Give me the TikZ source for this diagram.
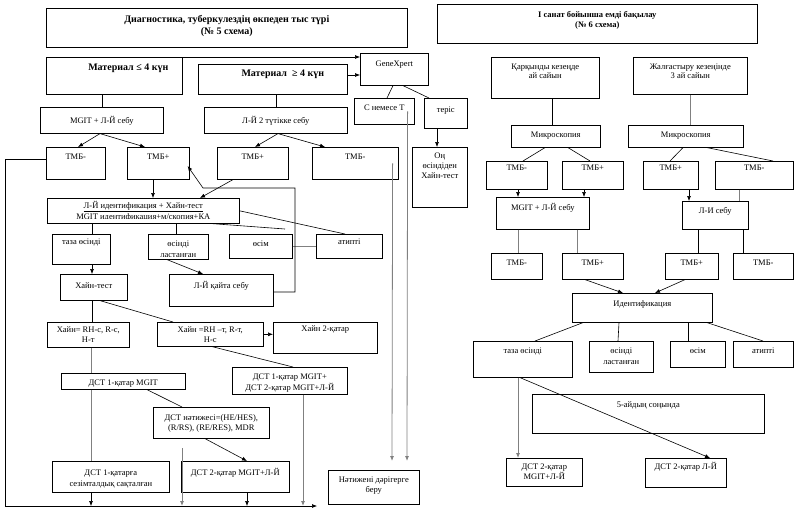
\documentclass[tikz,border=0pt]{standalone}
\usepackage{fontspec}
\setmainfont{Liberation Serif}
\usetikzlibrary{arrows.meta}
\tikzset{
box/.style = {rectangle, draw = black, fill = white, anchor = north west, align = center, inner xsep = 1pt, inner ysep = 0pt, line width = 0.6pt},
big/.style = {font = \fontsize{10pt}{12pt}\selectfont\bfseries},
con/.style = {draw = black, line width = 0.6pt},
grey con/.style = {draw = black!50, line width = 0.8pt},
arr/.style = {-{Latex[length = 5pt, width = 4pt]}},
cut line/.style n args = {3}{path picture = {
        \clip (path picture bounding box.north west) rectangle ([yshift = #3]path picture bounding box.south east);
        \node[anchor = base, inner sep = 0pt] at ([yshift = #2]path picture bounding box.south) {#1};
        }},
}

\begin{document}
\begin{tikzpicture}[x = 1pt, y = -1pt, every node/.style = {font = \fontsize{8.5pt}{10pt}\selectfont}]
    \useasboundingbox (0, 0) rectangle (798, 512);
    % scheme 5
    \node[box, big, minimum width = 361pt, text height = 26pt, text depth = 13pt] (title5) at (46, 8) {Диагностика, туберкулездің өкпеден тыс түрі\\(№ 5 схема)};
    \node[box, big, minimum width = 136pt, text height = 13pt, text depth = 24pt] (mat1) at (46, 57) {\hspace*{28pt}Материал ≤ 4 күн};
    \node[box, big, minimum width = 149pt, text height = 12pt, text depth = 18pt] (mat2) at (198, 64) {\hspace*{20pt}Материал \ ≥ 4 күн};
    \node[box, minimum width = 68pt, text height = 13pt, text depth = 19pt] (gx) at (360, 53) {GeneXpert};
    \node[box, minimum width = 123pt, text height = 16pt, text depth = 10pt] (mgit1) at (40, 107) {MGIT + Л-Й себу};
    \node[box, minimum width = 143pt, text height = 16pt, text depth = 10pt] (lj2) at (204, 107) {Л-Й 2 түтікке себу};
    \node[box, minimum width = 60pt, text height = 12pt, text depth = 14pt] (ct) at (354, 98) {С немесе Т};
    \node[box, minimum width = 43pt, text height = 14pt, text depth = 16pt] (neg) at (424, 98) {теріс};
    \node[box, minimum width = 55pt, text height = 31pt, text depth = 29pt] (ong) at (412, 147) {Оң\\өсіндіден\\Хайн-тест};
    \node[box, minimum width = 59pt, text height = 12pt, text depth = 20pt] (tmb1) at (46, 147) {ТМБ-};
    \node[box, minimum width = 62pt, text height = 12pt, text depth = 20pt] (tmb2) at (127, 147) {ТМБ+};
    \node[box, minimum width = 71pt, text height = 12pt, text depth = 20pt] (tmb3) at (217, 147) {ТМБ+};
    \node[box, minimum width = 86pt, text height = 12pt, text depth = 20pt] (tmb4) at (312, 147) {ТМБ-};
    \node[box, minimum width = 192pt, text height = 10pt, text depth = 15pt, cut line = {MGIT идентификация+м/скопия+КА}{3.5pt}{4.5pt}] (lid) at (47, 198) {\underline{Л-Й идентификация + Хайн-тест}};
    \node[box, minimum width = 58pt, text height = 10pt, text depth = 20pt] (taza) at (52, 234) {таза өсінді};
    \node[box, minimum width = 60pt, text height = 12pt, text depth = 13pt, cut line = {ластанған}{2pt}{3pt}] (osl) at (148, 234) {өсінді};
    \node[box, minimum width = 63pt, text height = 12pt, text depth = 12pt] (osim) at (229, 234) {өсім};
    \node[box, minimum width = 66pt, text height = 10pt, text depth = 14pt] (atip) at (316, 234) {атипті};
    \node[box, minimum width = 67pt, text height = 14pt, text depth = 12pt] (hain) at (60, 274) {Хайн-тест};
    \node[box, minimum width = 104pt, text height = 14pt, text depth = 18pt] (ljk) at (169, 274) {Л-Й қайта себу};
    \node[box, minimum width = 82pt, text height = 20pt, text depth = 5pt] (hainA) at (47, 322) {Хайн= RH-с, R-с,\\Н-т};
    \node[box, minimum width = 106pt, text height = 20pt, text depth = 4pt] (hainB) at (157, 322) {Хайн =RH –т, R-т,\\Н-с};
    \node[box, minimum width = 104pt, text height = 9pt, text depth = 22pt] (hain2) at (273, 322) {Хайн 2-қатар};
    \node[box, minimum width = 124pt, text height = 12pt, text depth = 4pt] (dst1) at (61, 373) {ДСТ 1-қатар MGIT};
    \node[box, minimum width = 115pt, text height = 23pt, text depth = 4pt] (dstp) at (232, 367) {ДСТ 1-қатар MGIT+\\[1pt]ДСТ 2-қатар MGIT+Л-Й};
    \node[box, minimum width = 116pt, text height = 23pt, text depth = 8pt] (dstr) at (153, 407) {ДСТ нәтижесі=(HE/HES),\\(R/RS), (RE/RES), MDR};
    \node[box, minimum width = 117pt, text height = 25pt, text depth = 6pt] (dstc) at (52, 461) {ДСТ 1-қатарға\\[1pt]сезімталдық сақталған};
    \node[box, minimum width = 108pt, text height = 14pt, text depth = 17pt] (dst2) at (181, 461) {ДСТ 2-қатар MGIT+Л-Й};
    \node[box, minimum width = 91pt, text height = 22pt, text depth = 12pt] (res) at (328, 470) {Нәтижені дәрігерге\\беру};
    \coordinate (resin1) at (407, 461);
    \coordinate (resin2) at (392, 461);
    \coordinate (busl) at (5, 506);
    \coordinate (busr) at (317, 506);
    \coordinate (busin) at (182, 448);
    \coordinate (loopr) at (295, 188);
    \coordinate (loopl) at (203, 188);
    \coordinate (osimtip) at (285, 229);
    % scheme 6
    \node[box, minimum width = 320pt, text height = 23pt, text depth = 16pt] (title6) at (437, 4) {\textbf{I санат бойынша емді бақылау}\\\textbf{(№ 6 схема)}};
    \node[box, minimum width = 108pt, text height = 21pt, text depth = 20pt] (kar) at (491, 57) {Қарқынды кезеңде\\[-1pt]ай сайын};
    \node[box, minimum width = 114pt, text height = 21pt, text depth = 16pt] (zhal) at (633, 57) {Жалғастыру кезеңінде\\[-1pt]3 ай сайын};
    \node[box, minimum width = 89pt, text height = 12pt, text depth = 10pt] (mik1) at (511, 125) {Микроскопия};
    \node[box, minimum width = 115pt, text height = 12pt, text depth = 10pt] (mik2) at (628, 125) {Микроскопия};
    \node[box, minimum width = 61pt, text height = 9pt, text depth = 19pt] (r1) at (486, 161) {ТМБ-};
    \node[box, minimum width = 61pt, text height = 9pt, text depth = 19pt] (r2) at (562, 161) {ТМБ+};
    \node[box, minimum width = 55pt, text height = 9pt, text depth = 19pt] (r3) at (643, 161) {ТМБ+};
    \node[box, minimum width = 78pt, text height = 9pt, text depth = 19pt] (r4) at (715, 161) {ТМБ-};
    \node[box, minimum width = 93pt, text height = 13pt, text depth = 19pt] (mgitR) at (496, 197) {MGIT + Л-Й себу};
    \node[box, minimum width = 66pt, text height = 12pt, text depth = 16pt] (liR) at (682, 201) {Л-И себу};
    \node[box, minimum width = 51pt, text height = 12pt, text depth = 14pt] (r5) at (491, 253) {ТМБ-};
    \node[box, minimum width = 61pt, text height = 12pt, text depth = 14pt] (r6) at (562, 253) {ТМБ+};
    \node[box, minimum width = 53pt, text height = 12pt, text depth = 14pt] (r7) at (665, 253) {ТМБ+};
    \node[box, minimum width = 60pt, text height = 12pt, text depth = 14pt] (r8) at (733, 253) {ТМБ-};
    \node[box, minimum width = 140pt, text height = 13pt, text depth = 16pt] (ident) at (572, 293) {Идентификация};
    \node[box, minimum width = 99pt, text height = 12pt, text depth = 24pt] (tazaR) at (473, 341) {таза өсінді};
    \node[box, minimum width = 64pt, text height = 23pt, text depth = 8pt] (oslR) at (589, 341) {өсінді\\[1pt]ластанған};
    \node[box, minimum width = 55pt, text height = 12pt, text depth = 14pt] (osimR) at (670, 341) {өсім};
    \node[box, minimum width = 60pt, text height = 12pt, text depth = 14pt] (atipR) at (733, 341) {атипті};
    \node[box, minimum width = 232pt, text height = 13pt, text depth = 26pt] (ay5) at (532, 394) {5-айдың соңында};
    \node[box, minimum width = 76pt, text height = 21pt, text depth = 7pt] (dstR1) at (506, 458) {ДСТ 2-қатар\\MGIT+Л-Й};
    \node[box, minimum width = 81pt, text height = 11pt, text depth = 18pt] (dstR2) at (645, 458) {ДСТ 2-қатар Л-Й};
    % connectors, scheme 5
    \draw[con, arr] (mat1.north east) -- (mat1.north east -| gx.west);
    \draw[con, arr] ([yshift = -11pt]mat2.north east) -- ([yshift = -11pt]mat2.north east -| gx.west);
    \draw[con] (mgit1.north) -- (mgit1.north |- mat1.south);
    \draw[con] (lj2.north) -- (lj2.north |- mat2.south);
    \draw[con, arr] ([xshift = 60pt]mgit1.south west) -- ([xshift = 32pt]tmb1.north west);
    \draw[con, arr] ([xshift = 60pt]mgit1.south west) -- ([xshift = 18pt]tmb2.north west);
    \draw[con, arr] ([xshift = 74pt]lj2.south west) -- ([xshift = 38pt]tmb3.north west);
    \draw[con, arr] ([xshift = 74pt]lj2.south west) -- ([xshift = 13pt]tmb4.north west);
    \draw[con] ([xshift = 33pt]gx.south west) -- ([xshift = 33pt]ct.north west);
    \draw[con] ([xshift = 43pt]gx.south west) -- ([xshift = 5pt]neg.north west);
    \draw[con, arr] ([xshift = 13pt]neg.south west) -- ([xshift = 25pt]ong.north west);
    \draw[grey con, arr] ([xshift = -7pt]ct.east) -- (resin1);
    \draw[grey con, arr] ([xshift = -6pt]tmb4.east) -- (resin2);
    \draw[con, arr] ([yshift = -12pt]tmb1.north west) -| (busl) -- (busr);
    \draw[con, arr] ([xshift = 26pt]tmb2.south west) -- ([xshift = 26pt]tmb2.south west |- lid.north);
    \draw[con, arr] ([xshift = 16pt]tmb3.south west) -- ([xshift = 153pt]lid.north west);
    \draw[con] ([xshift = 40pt]taza.north west |- lid.south) -- ([xshift = 40pt]taza.north west);
    \draw[con] ([xshift = 28pt]osl.north west |- lid.south) -- ([xshift = 28pt]osl.north west);
    \draw[con] ([xshift = -28pt]lid.south east) -- (osimtip);
    \draw[con] (lid.east) -- ([xshift = 29pt]atip.north west);
    \draw[grey con] (osim.east) -- (atip.west);
    \draw[con, arr] ([xshift = 40pt]taza.south west) -- ([xshift = 40pt]taza.south west |- hain.north);
    \draw[con, arr] ([xshift = 19pt]osl.south west) -- ([xshift = 34pt]ljk.north west);
    \draw[con, arr] ([yshift = -18pt]ljk.north east) -| (loopr) -- (loopl) -- ([xshift = -2pt, yshift = -19pt]tmb2.north east);
    \draw[con] ([xshift = 32pt]hain.south west) -- ([xshift = 45pt]hainA.north west);
    \draw[con] ([xshift = 40pt]hain.south west) -- ([xshift = 16pt]hainB.north west);
    \draw[con, arr] (hainB.east) -- (hainB.east -| hain2.west);
    \draw[grey con] ([xshift = 44pt]hainA.south west) -- ([xshift = 30pt]dst1.north west);
    \draw[con] ([xshift = 55pt]hainB.south west) -- ([xshift = 61pt]dstp.north west);
    \draw[con] ([xshift = 86pt]dst1.south west) -- ([xshift = 29pt]dstr.north west);
    \draw[grey con] ([xshift = 30pt]dst1.south west) -- ([xshift = 39pt]dstc.north west);
    \draw[con, arr] ([xshift = 52pt]dstr.south west) -- ([xshift = 66pt]dst2.north west);
    \draw[grey con, arr] (busin) -- (busin |- busl);
    \draw[con, arr] ([xshift = 39pt]dstc.south west) -- ([xshift = 39pt]dstc.south west |- busl);
    \draw[con, arr] ([xshift = 66pt]dst2.south west) -- ([xshift = 66pt]dst2.south west |- busl);
    \draw[grey con, arr] ([xshift = 71pt]dstp.south west) -- ([xshift = 71pt]dstp.south west |- busl);
    % connectors, scheme 6
    \draw[con] ([xshift = 41pt]mik1.north west |- kar.south) -- ([xshift = 41pt]mik1.north west);
    \draw[grey con] (zhal.south) -- (zhal.south |- mik2.north);
    \draw[con] ([xshift = 34pt]mik1.south west) -- ([xshift = 37pt]r1.north west);
    \draw[con] ([xshift = 57pt]mik1.south west) -- ([xshift = 28pt]r2.north west);
    \draw[con] ([xshift = 55pt]mik2.south west) -- ([xshift = 27pt]r3.north west);
    \draw[con] ([xshift = 79pt]mik2.south west) -- ([xshift = 58pt]r4.north west);
    \draw[con, arr] ([xshift = 32pt]r1.south west) -- ([xshift = 32pt]r1.south west |- mgitR.north);
    \draw[con, arr] ([xshift = 22pt]r2.south west) -- ([xshift = 22pt]r2.south west |- mgitR.north);
    \draw[con, arr] ([xshift = 46pt]r3.south west) -- ([xshift = 46pt]r3.south west |- liR.north);
    \draw[grey con] ([xshift = 24pt]r4.south west) -- ([xshift = 24pt]r4.south west |- liR.north);
    \draw[grey con] ([xshift = 22pt]mgitR.south west) -- ([xshift = 27pt]r5.north west);
    \draw[grey con] ([xshift = 81pt]mgitR.south west) -- ([xshift = 15pt]r6.north west);
    \draw[con] ([xshift = 16pt]liR.south west) -- ([xshift = 33pt]r7.north west);
    \draw[con] ([xshift = 61pt]liR.south west) -- ([xshift = 10pt]r8.north west);
    \draw[con, arr] ([xshift = 23pt]r6.south west) -- ([xshift = 51pt]ident.north west);
    \draw[con, arr] ([xshift = 20pt]r7.south west) -- ([xshift = 83pt]ident.north west);
    \draw[con] ([xshift = 11pt]ident.south west) -- ([xshift = 62pt]tazaR.north west);
    \draw[con] ([xshift = 47pt]ident.south west) -- ([xshift = 29pt]oslR.north west);
    \draw[con] ([xshift = 116pt]ident.south west) -- ([xshift = 18pt]osimR.north west);
    \draw[con] ([xshift = 135pt]ident.south west) -- ([xshift = 30pt]atipR.north west);
    \draw[grey con, arr] ([xshift = 45pt]tazaR.south west) -- ([xshift = 12pt]dstR1.north west);
    \draw[con, arr] ([xshift = 47pt]tazaR.south west) -- ([xshift = 65pt]dstR2.north west);
\end{tikzpicture}
\end{document}
